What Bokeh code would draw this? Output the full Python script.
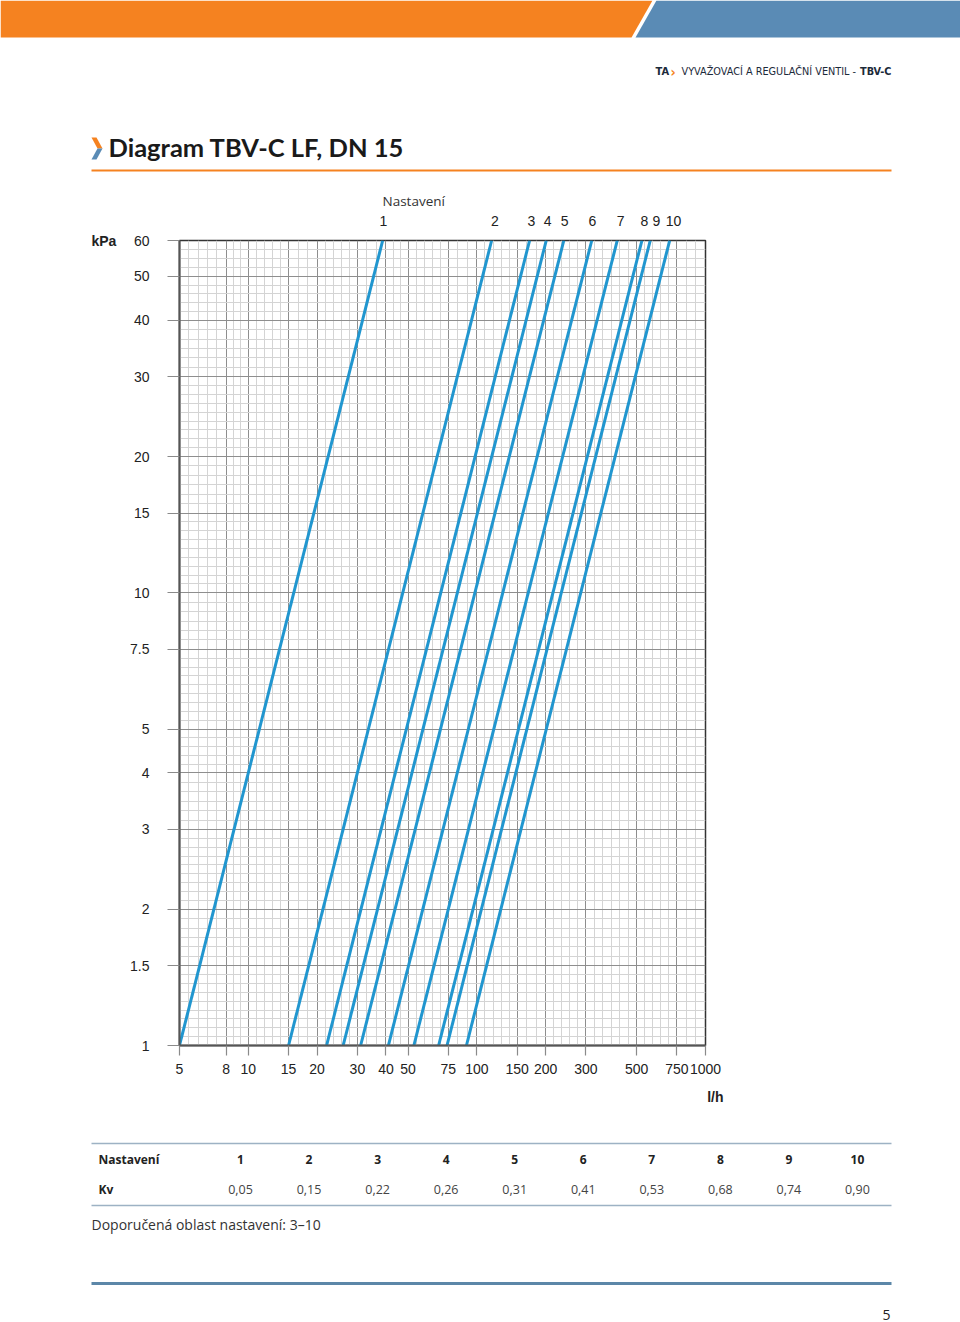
import math
from bokeh.plotting import figure
from bokeh.models import Range1d, FixedTicker, LogAxis, ColumnDataSource
from bokeh.layouts import column, row
from bokeh.core.properties import value
from bokeh.embed import file_html
from bokeh.resources import INLINE

# ---------------- data ----------------
settings = [1, 2, 3, 4, 5, 6, 7, 8, 9, 10]
kv_values = [0.05, 0.15, 0.22, 0.26, 0.31, 0.41, 0.53, 0.68, 0.74, 0.90]
# flow (l/h) where each setting line crosses 1 kPa (bottom) and 60 kPa (top)
flow_at_1kpa = [5.0, 15.0, 22.0, 26.0, 31.0, 41.0, 53.0, 68.0, 74.0, 90.0]
flow_at_60kpa = [38.7, 116.0, 170.0, 201.0, 240.0, 318.0, 411.0, 527.0, 573.0, 697.0]
dp_bottom = [1.0] * 10
dp_top = [60.0] * 10
# flow at which the setting numbers are printed above the chart
setting_label_flow = [39.0, 120.0, 173.0, 204.0, 242.0, 320.0, 425.0, 541.0, 610.0, 724.0]

x_ticks = [5, 8, 10, 15, 20, 30, 40, 50, 75, 100, 150, 200, 300, 500, 750, 1000]
x_tick_labels = ["5", "8", "10", "15", "20", "30", "40", "50", "75", "100",
                 "150", "200", "300", "500", "750", "1000"]
y_ticks = [1, 1.5, 2, 3, 4, 5, 7.5, 10, 15, 20, 30, 40, 50, 60]
y_tick_labels = ["1", "1.5", "2", "3", "4", "5", "7.5", "10", "15", "20", "30", "40", "50", "60"]

BLUE = "#2196cf"
ORANGE = "#f58220"
STEEL = "#5a8bb5"


def subdivide(ticks, px_per_decade, spacing):
    out = []
    for a, b in zip(ticks[:-1], ticks[1:]):
        n = max(1, round(px_per_decade * math.log10(b / a) / spacing))
        for k in range(1, n):
            out.append(a * (b / a) ** (k / n))
    return out


def blank(x0, y0, w, h):
    f = figure(width=w, height=h, x_range=Range1d(x0, x0 + w),
               y_range=Range1d(y0 + h, y0), x_axis_type=None, y_axis_type=None,
               output_backend="svg", toolbar_location=None, min_border=0)
    f.frame_align = False
    f.grid.visible = False
    f.outline_line_color = None
    f.background_fill_color = "white"
    f.border_fill_color = "white"
    return f


# ---------------- top part (page y 0..210) ----------------
top = blank(0, 0, 960, 210)
top.patch([0, 652, 631, 0], [0, 0, 37, 37], fill_color=ORANGE, line_color=None)
top.patch([656, 970, 970, 635], [0, 0, 37, 37], fill_color=STEEL, line_color=None)

hdr_font = value("DejaVu Sans Condensed")
top.text(x=[655], y=[71], text=["TA"], text_font=hdr_font, text_font_style="bold",
         text_font_size="11px", text_baseline="middle", text_align="left", text_color="#1c2a3a")
top.text(x=[670], y=[71], text=["›"], text_font=hdr_font, text_font_style="bold",
         text_font_size="14px", text_baseline="middle", text_align="left", text_color=ORANGE)
top.text(x=[681], y=[71], text=["VYVAŽOVACÍ A REGULAČNÍ VENTIL -"], text_font=hdr_font,
         text_font_size="10.8px", text_baseline="middle", text_align="left", text_color="#1c2a3a")
top.text(x=[891], y=[71], text=["TBV-C"], text_font=hdr_font, text_font_style="bold",
         text_font_size="10.8px", text_baseline="middle", text_align="right", text_color="#1c2a3a")

# title chevron
top.patch([91, 96, 102, 97], [137, 137, 148, 148], fill_color=ORANGE, line_color=None)
top.patch([97, 102, 96, 91], [148, 148, 159, 159], fill_color=STEEL, line_color=None)
top.text(x=[108], y=[146], text=["Diagram TBV-C LF, DN 15"], text_font=value("Lato"),
         text_font_style="bold", text_font_size="25.5px", text_baseline="middle",
         text_align="left", text_color="#1a1a1a")
top.segment(x0=[91], y0=[170], x1=[891], y1=[170], line_color=ORANGE, line_width=2)
top.text(x=[382], y=[200], text=["Nastavení"], text_font=value("Open Sans"),
         text_font_size="13.5px", text_baseline="middle", text_align="left", text_color="#333333")

# ---------------- left strip (page x 0..120, y 210..1085) ----------------
CH_Y0, CH_H = 210, 875
left = blank(0, CH_Y0, 120, CH_H)
left.text(x=[91], y=[240], text=["kPa"], text_font=value("Liberation Sans"),
          text_font_style="bold", text_font_size="14px", text_baseline="middle",
          text_align="left", text_color="#222222")

# ---------------- chart (page x 120..960, y 210..1085) ----------------
p = figure(width=840, height=CH_H, x_axis_type="log", y_axis_type="log",
           x_range=Range1d(5, 1000), y_range=Range1d(1, 60),
           output_backend="svg", toolbar_location=None,
           min_border_left=59, min_border_right=255, min_border_top=30, min_border_bottom=40)
p.frame_align = False
p.background_fill_color = "white"
p.border_fill_color = "white"
p.outline_line_color = "#333333"
p.outline_line_width = 1.5

x_minor = subdivide(x_ticks, 228.6, 8.5)
y_minor = subdivide(y_ticks, 452.7, 9.0)

p.xaxis.ticker = FixedTicker(ticks=x_ticks, minor_ticks=x_minor)
p.yaxis.ticker = FixedTicker(ticks=y_ticks, minor_ticks=y_minor)
p.xaxis.major_label_overrides = {float(t): s for t, s in zip(x_ticks, x_tick_labels)}
p.yaxis.major_label_overrides = {float(t): s for t, s in zip(y_ticks, y_tick_labels)}

for ax in (p.xaxis, p.yaxis):
    ax.axis_line_color = "#555555"
    ax.axis_line_width = 2
    ax.major_tick_line_color = "#8a8a8a"
    ax.major_tick_line_width = 1.2
    ax.major_tick_in = 0
    ax.minor_tick_line_color = None
    ax.major_label_text_font = "Liberation Sans"
    ax.major_label_text_font_size = "14px"
    ax.major_label_text_color = "#222222"
p.xaxis.major_tick_out = 10
p.xaxis.major_label_standoff = 8
p.yaxis.major_tick_out = 12
p.yaxis.major_label_standoff = 18

p.xgrid.grid_line_color = "#8e8e8e"
p.ygrid.grid_line_color = "#8e8e8e"
p.xgrid.minor_grid_line_color = "#d4d4d4"
p.ygrid.minor_grid_line_color = "#d4d4d4"

top_axis = LogAxis(ticker=FixedTicker(ticks=setting_label_flow),
                   major_label_overrides={float(q): str(s) for q, s in zip(setting_label_flow, settings)},
                   axis_line_color=None, major_tick_line_color=None, minor_tick_line_color=None,
                   major_label_text_font="Liberation Sans", major_label_text_font_size="14px",
                   major_label_text_color="#222222", major_label_standoff=9)
p.add_layout(top_axis, "above")

src = ColumnDataSource(dict(x0=flow_at_1kpa, y0=dp_bottom, x1=flow_at_60kpa, y1=dp_top))
p.segment(x0="x0", y0="y0", x1="x1", y1="y1", source=src, line_color=BLUE, line_width=3)

# ---------------- bottom part (page y 1085..1322) ----------------
bot = blank(0, 1085, 960, 237)
bot.text(x=[723], y=[1096], text=["l/h"], text_font=value("Liberation Sans"),
         text_font_style="bold", text_font_size="14px", text_baseline="middle",
         text_align="right", text_color="#222222")
bot.segment(x0=[91, 91], y0=[1143, 1205], x1=[891, 891], y1=[1143, 1205],
            line_color="#9db2c4", line_width=1.5)
col_x = [240 + i * 68.55 for i in range(len(settings))]
tbl_font = value("Open Sans")
bot.text(x=[98], y=[1159], text=["Nastavení"], text_font=tbl_font, text_font_style="bold",
         text_font_size="12px", text_baseline="middle", text_align="left", text_color="#222222")
bot.text(x=[98], y=[1189], text=["Kv"], text_font=tbl_font, text_font_style="bold",
         text_font_size="12px", text_baseline="middle", text_align="left", text_color="#222222")
bot.text(x=col_x, y=[1159] * len(settings), text=[str(s) for s in settings], text_font=tbl_font,
         text_font_style="bold", text_font_size="12px", text_baseline="middle",
         text_align="center", text_color="#222222")
bot.text(x=col_x, y=[1189] * len(settings), text=[f"{k:.2f}".replace(".", ",") for k in kv_values],
         text_font=tbl_font, text_font_size="12.5px", text_baseline="middle",
         text_align="center", text_color="#444444")
bot.text(x=[91], y=[1224], text=["Doporučená oblast nastavení: 3–10"], text_font=tbl_font,
         text_font_size="14px", text_baseline="middle", text_align="left", text_color="#333333")
bot.segment(x0=[91], y0=[1283], x1=[891], y1=[1283], line_color="#5c87a8", line_width=3)
bot.text(x=[886], y=[1314], text=["5"], text_font=tbl_font, text_font_size="14px",
         text_baseline="middle", text_align="center", text_color="#222222")

layout = column(top, row(left, p, spacing=0), bot, spacing=0)
open("out.html", "w").write(file_html(layout, INLINE))
